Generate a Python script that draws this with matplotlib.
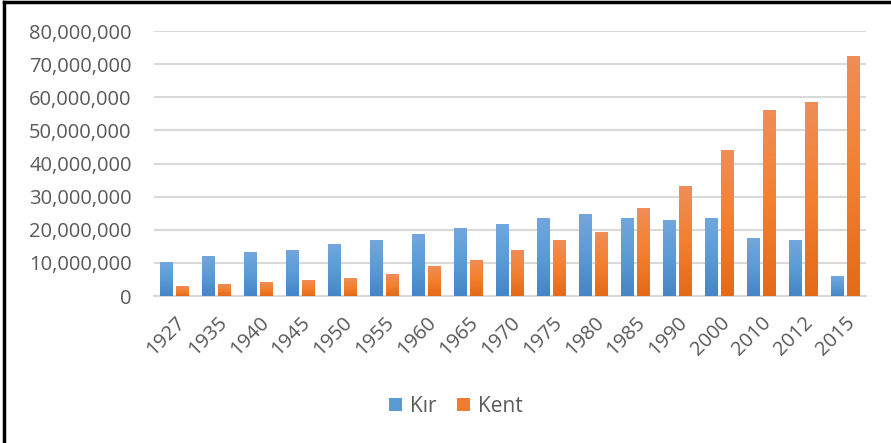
import numpy as np
import matplotlib
matplotlib.use("Agg")
from matplotlib import pyplot as plt
from matplotlib.ticker import FuncFormatter
from matplotlib.colors import LinearSegmentedColormap

years = ["1927", "1935", "1940", "1945", "1950", "1955", "1960", "1965", "1970",
         "1975", "1980", "1985", "1990", "2000", "2010", "2012", "2015"]
kir = [10.3, 12.1, 13.3, 13.9, 15.7, 16.9, 18.7, 20.5, 21.7,
       23.6, 24.8, 23.6, 23.0, 23.6, 17.5, 16.9, 6.0]
kent = [3.0, 3.6, 4.2, 4.8, 5.4, 6.6, 9.1, 10.9, 13.9,
        16.9, 19.3, 26.6, 33.2, 44.1, 56.2, 58.6, 72.5]
kir = np.array(kir) * 1e6
kent = np.array(kent) * 1e6

plt.rcParams['font.family'] = ['Open Sans', 'DejaVu Sans']

blue_cm = LinearSegmentedColormap.from_list("b", ["#4685C6", "#5B9BD5", "#72A7DD"])
orange_cm = LinearSegmentedColormap.from_list("o", ["#E36A19", "#F4802F", "#F08D56"])

fig = plt.figure(figsize=(8.91, 4.43), dpi=100)
ax = fig.add_axes([0.1728, 0.3318, 0.7992, 0.598])

x = np.arange(len(years))
w = 0.31
grad = np.linspace(0, 1, 64).reshape(-1, 1)


def gradient_bars(bars, cmap):
    for b in bars:
        x0, y0 = b.get_x(), b.get_y()
        x1, y1 = x0 + b.get_width(), y0 + b.get_height()
        im = ax.imshow(grad, cmap=cmap, aspect="auto", origin="lower",
                       extent=[x0, x1, y0, y1], zorder=3)
        im.set_clip_path(b)


b1 = ax.bar(x - 0.19, kir, width=w, color="#5B9BD5", label="Kır", zorder=3)
b2 = ax.bar(x + 0.19, kent, width=w, color="#ED7D31", label="Kent", zorder=3)
gradient_bars(b1, blue_cm)
gradient_bars(b2, orange_cm)

ax.set_xlim(-0.5, len(years) - 0.5)
ax.set_ylim(0, 80e6)
ax.set_yticks(np.arange(0, 80e6 + 1, 10e6))
ax.yaxis.set_major_formatter(FuncFormatter(lambda v, p: f"{int(v):,}"))
ax.grid(axis="y", color="#D9D9D9", linewidth=1.5, zorder=0)
for s in ["top", "right", "left"]:
    ax.spines[s].set_visible(False)
ax.spines["bottom"].set_color("#D9D9D9")
ax.spines["bottom"].set_linewidth(1.5)
ax.tick_params(axis="both", length=0, labelsize=14.5, colors="#595959")
ax.tick_params(axis="y", pad=16)
ax.set_xticks(x)
ax.set_xticklabels(years, rotation=45, ha="right", rotation_mode="anchor")
ax.tick_params(axis="x", pad=12)

fig.legend(loc="center", bbox_to_anchor=(0.512, 0.083), ncol=2, frameon=False,
           fontsize=15, handlelength=0.6, handleheight=0.6, columnspacing=1.0,
           handletextpad=0.4, labelcolor="#595959")

# chart frame (only top and left edges visible)
fig.add_artist(plt.Line2D([0.004, 0.004], [0, 0.995], color="black", linewidth=2.5, transform=fig.transFigure))
fig.add_artist(plt.Line2D([0.004, 1.0], [0.995, 0.995], color="black", linewidth=2.5, transform=fig.transFigure))

fig.savefig("out.png", dpi=100)
